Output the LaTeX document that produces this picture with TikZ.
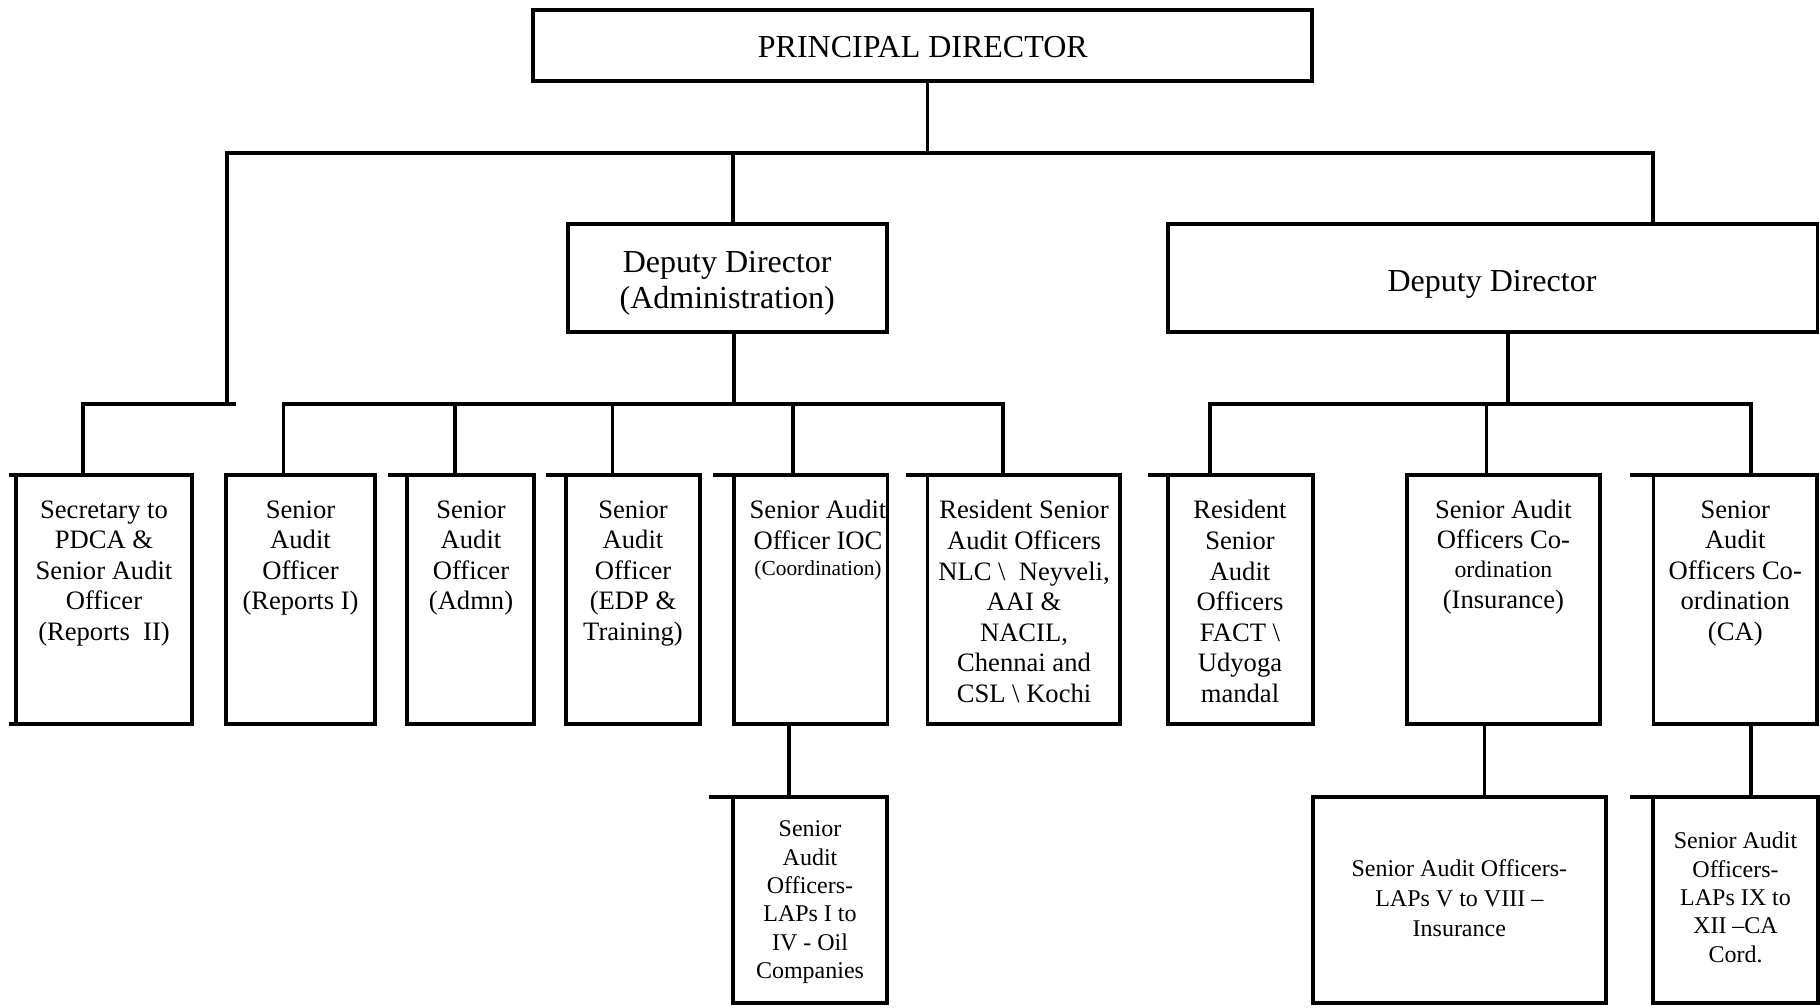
\documentclass[tikz,border=0pt]{standalone}
\usepackage{fontspec}
\setmainfont{Liberation Serif}
\tikzset{
  orgbox/.style={draw, rectangle, line width=3.8pt, inner sep=0pt, outer sep=0pt},
  wire/.style={line width=3.8pt, line join=miter},
  bigtext/.style={font=\fontsize{32}{36.5}\selectfont, align=center, inner sep=0pt},
  midtext/.style={font=\fontsize{26.6}{30.6}\selectfont, align=center, inner sep=0pt, anchor=north},
  lowtext/.style={align=center, inner sep=0pt, anchor=north},
}
% box given by its name and left, top, right, bottom edges
\newcommand\orgnode[5]{%
  \node[orgbox, anchor=north west, minimum width={#4-#2}, minimum height={#5-#3}] (#1) at (#2,#3) {};}
\begin{document}
\begin{tikzpicture}[x=1pt,y=-1pt]
\useasboundingbox (0,0) rectangle (1820,1008);

% ---- boxes
\orgnode{pd}{533.3}{10}{1312.3}{80.7}
\orgnode{dda}{567.7}{224}{886.7}{332}
\orgnode{ddr}{1167.7}{224}{1817.5}{331.7}
\orgnode{sec}{16}{475.3}{192.3}{724.3}
\orgnode{repi}{226.2}{475.3}{374.8}{724.3}
\orgnode{admn}{407.3}{475.3}{533.8}{724.3}
\orgnode{edp}{566}{475.3}{700}{724.3}
\orgnode{ioc}{734}{475.3}{887.5}{724.3}
\orgnode{res}{927.5}{475.3}{1119.6}{724.3}
\orgnode{fact}{1167.8}{475.3}{1312.6}{724.3}
\orgnode{ins}{1406.7}{475.3}{1600}{724.3}
\orgnode{ca}{1653.4}{475.3}{1817.3}{724.3}
\orgnode{oil}{733.3}{796.7}{886.7}{1002.8}
\orgnode{lv}{1312.7}{796.7}{1606}{1002.8}
\orgnode{lix}{1653.3}{796.7}{1818}{1002.8}

% ---- short overhangs of some box edges
\draw[wire] (sec.north west) -- ++(-6.7,0);
\draw[wire] (sec.south west) -- ++(-6.7,0);
\draw[wire] (admn.north west) -- ++(-19.8,0);
\draw[wire] (edp.north west) -- ++(-20.3,0);
\draw[wire] (ioc.north west) -- ++(-21,0);
\draw[wire] (res.north west) -- ++(-21.1,0);
\draw[wire] (fact.north west) -- ++(-19.8,0);
\draw[wire] (ca.north west) -- ++(-23.9,0);
\draw[wire] (oil.north west) -- ++(-24,0);
\draw[wire] (lix.north west) -- ++(-23.3,0);

% ---- junction points of the connector bars
\coordinate (pdJ) at (927.5,152.7);
\coordinate (topL) at (226.7,152.7);
\coordinate (topR) at (1652.7,152.7);
\coordinate (ddaJ) at (732.7,152.7);
\coordinate (secJ) at (83.3,403.7);
\coordinate (secE) at (235.7,403.7);
\coordinate (admJ) at (733.7,403.7);
\coordinate (repiJ) at (283.5,403.7);
\coordinate (admnJ) at (454.7,403.7);
\coordinate (edpJ) at (612.5,403.7);
\coordinate (iocJ) at (792.8,403.7);
\coordinate (resJ) at (1003.3,403.7);
\coordinate (ddrJ) at (1508,403.7);
\coordinate (factJ) at (1210,403.7);
\coordinate (insJ) at (1486.5,403.7);
\coordinate (caJ) at (1751.3,403.7);
\coordinate (oilJ) at (789,760);
\coordinate (lvJ) at (1484.5,760);
\coordinate (lixJ) at (1751,760);

% ---- connectors
\draw[wire] (pd.south -| pdJ) -- (pdJ);
\draw[wire] (topL |- secJ) -- (topL) -- (topR) -- (ddr.north -| topR);
\draw[wire] (secE) -- (secJ) -- (sec.north -| secJ);
\draw[wire] (ddaJ) -- (dda.north -| ddaJ);
\draw[wire] (dda.south -| admJ) -- (admJ);
\draw[wire] (repi.north -| repiJ) -- (repiJ) -- (resJ) -- (res.north -| resJ);
\draw[wire] (admnJ) -- (admn.north -| admnJ);
\draw[wire] (edpJ) -- (edp.north -| edpJ);
\draw[wire] (iocJ) -- (ioc.north -| iocJ);
\draw[wire] (ddr.south -| ddrJ) -- (ddrJ);
\draw[wire] (fact.north -| factJ) -- (factJ) -- (caJ) -- (ca.north -| caJ);
\draw[wire] (insJ) -- (ins.north -| insJ);
\draw[wire] (ioc.south -| oilJ) -- (oil.north -| oilJ);
\draw[wire] (ins.south -| lvJ) -- (lv.north -| lvJ);
\draw[wire] (ca.south -| lixJ) -- (lix.north -| lixJ);

% ---- labels
\node[bigtext, anchor=base] (pdT) at (922.8,58) {PRINCIPAL DIRECTOR};
\node[bigtext, anchor=north] (ddaT) at (727.2,251) {Deputy Director\\(Administration)};
\node[bigtext, anchor=base] (ddrT) at (1492,291) {Deputy Director};

\node[midtext] (secT) at (104,500.3) {Secretary to\\PDCA \&\\Senior Audit\\Officer\\(Reports\ \ II)};
\node[midtext] (repiT) at (300.5,500.3) {Senior\\Audit\\Officer\\(Reports I)};
\node[midtext] (admnT) at (471,500.3) {Senior\\Audit\\Officer\\(Admn)};
\node[midtext] (edpT) at (633,500.3) {Senior\\Audit\\Officer\\(EDP \&\\Training)};
\node[midtext] (iocT) at (818,500.3) {Senior Audit\\Officer IOC\\[-4.9pt]{\fontsize{21.4}{24}\selectfont (Coordination)}};
\node[midtext] (resT) at (1024,500.3) {Resident Senior\\Audit Officers\\NLC \textbackslash\ \ Neyveli,\\AAI \&\\NACIL,\\Chennai and\\CSL \textbackslash\ Kochi};
\node[midtext] (factT) at (1240,500.3) {Resident\\Senior\\Audit\\Officers\\FACT \textbackslash\\Udyoga\\mandal};
\node[midtext] (insT) at (1503.4,500.3) {Senior Audit\\[-1.2pt]Officers Co-\\[-1.1pt]{\fontsize{23.8}{27}\selectfont ordination}\\(Insurance)};
\node[midtext] (caT) at (1735.3,500.3) {Senior\\Audit\\Officers Co-\\ordination\\(CA)};

\node[lowtext, font=\fontsize{24}{28.3}\selectfont] (oilT) at (810,820.8) {Senior\\Audit\\Officers-\\LAPs I to\\IV - Oil\\Companies};
\node[lowtext, font=\fontsize{24}{30}\selectfont] (lvT) at (1459.3,859.2) {Senior Audit Officers-\\LAPs V to VIII –\\Insurance};
\node[lowtext, font=\fontsize{24}{28.4}\selectfont] (lixT) at (1735.5,831.9) {Senior Audit\\Officers-\\LAPs IX to\\XII –CA\\Cord.};
\end{tikzpicture}
\end{document}
